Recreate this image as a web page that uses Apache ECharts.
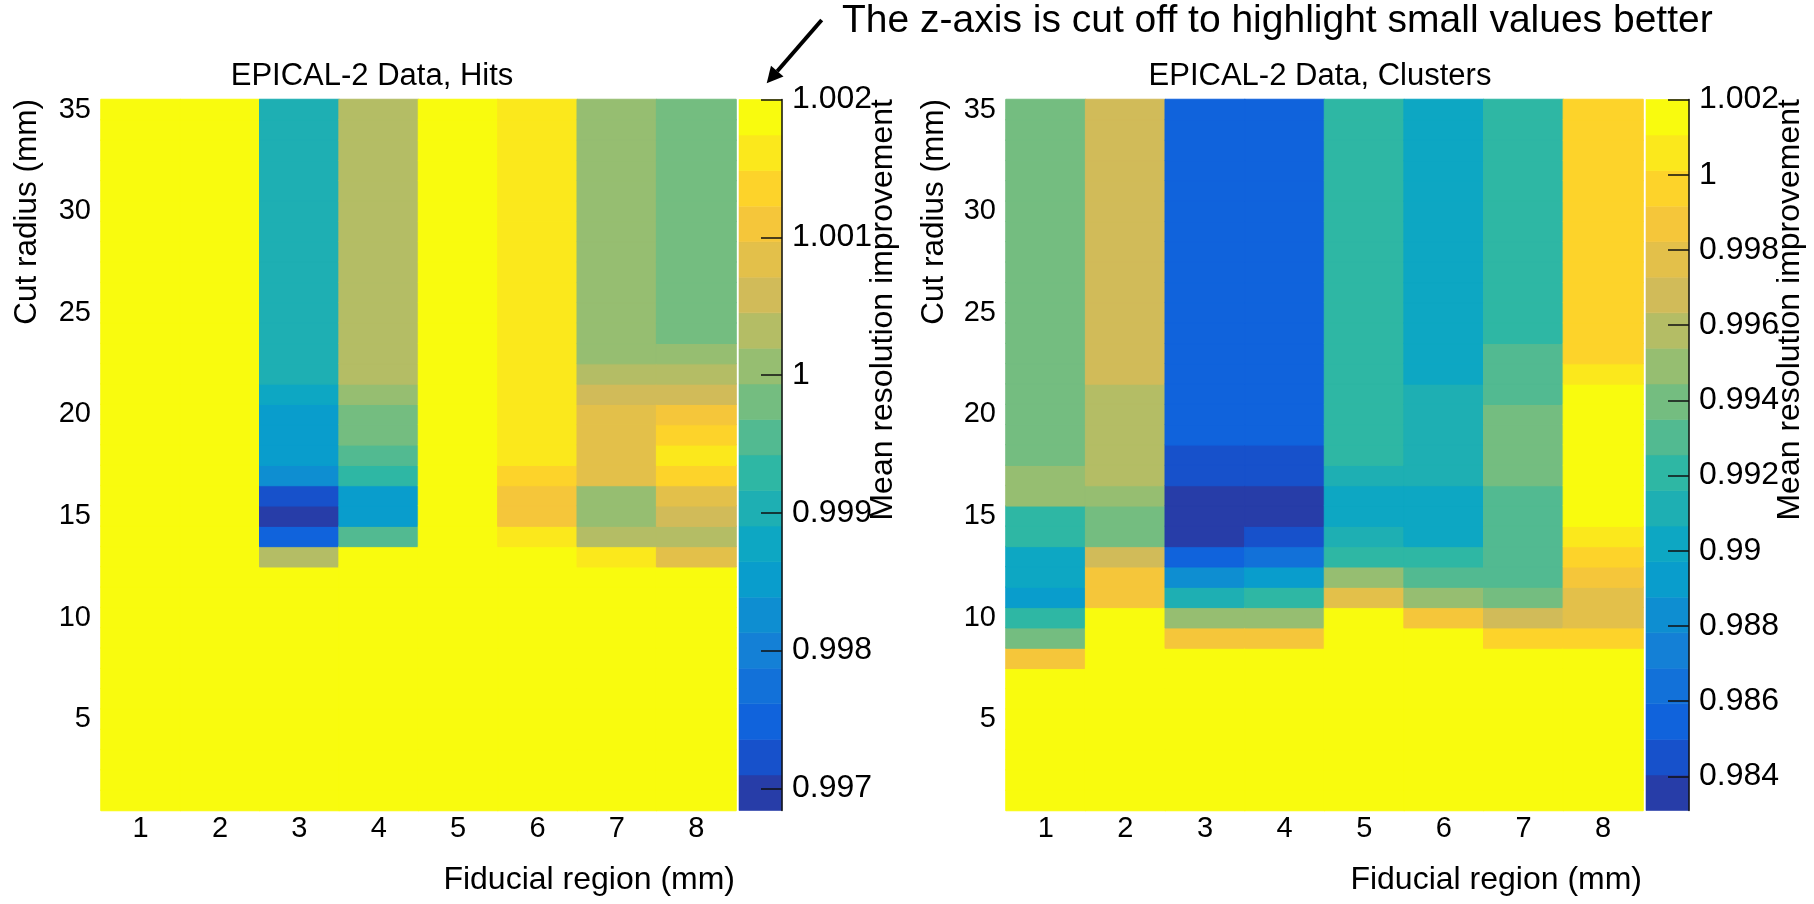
<!DOCTYPE html>
<html>
<head>
<meta charset="utf-8">
<title>EPICAL-2 resolution improvement</title>
<script src="https://cdn.jsdelivr.net/npm/echarts@6/dist/echarts.min.js"></script>
<style>
  html, body { margin: 0; padding: 0; background: #ffffff; }
  #chart { width: 1814px; height: 904px; }
</style>
</head>
<body>
<div id="chart"></div>
<script>
// Axis categories
const fiducialLabels = ['1', '2', '3', '4', '5', '6', '7', '8'];
const radiusLabels = ['1', '2', '3', '4', '5', '6', '7', '8', '9', '10', '11', '12',
  '13', '14', '15', '16', '17', '18', '19', '20', '21', '22', '23', '24', '25', '26',
  '27', '28', '29', '30', '31', '32', '33', '34', '35'];

// Mean resolution improvement per fiducial region, as runs of
// [first cut radius, last cut radius, value] (radius in mm, bottom to top).
const hitsColumns = [
  [[1, 35, 1.0019]],
  [[1, 35, 1.0019]],
  [[1, 12, 1.0019], [13, 13, 1.00032], [14, 14, 0.99749], [15, 15, 0.99686], [16, 16, 0.99723],
   [17, 17, 0.99826], [18, 20, 0.99852], [21, 21, 0.99877], [22, 35, 0.99903]],
  [[1, 13, 1.0019], [14, 14, 0.99955], [15, 16, 0.99852], [17, 17, 0.99929], [18, 18, 0.99955],
   [19, 20, 0.99981], [21, 21, 1.00006], [22, 35, 1.00032]],
  [[1, 35, 1.0019]],
  [[1, 13, 1.0019], [14, 14, 1.00161], [15, 16, 1.0011], [17, 17, 1.00135], [18, 35, 1.00161]],
  [[1, 12, 1.0019], [13, 13, 1.00161], [14, 14, 1.00032], [15, 16, 1.00006], [17, 20, 1.00084],
   [21, 21, 1.00058], [22, 22, 1.00032], [23, 35, 1.00006]],
  [[1, 12, 1.0019], [13, 13, 1.00084], [14, 14, 1.00032], [15, 15, 1.00058], [16, 16, 1.00084],
   [17, 17, 1.00135], [18, 18, 1.00161], [19, 19, 1.00135], [20, 20, 1.0011], [21, 21, 1.00058],
   [22, 22, 1.00032], [23, 23, 1.00006], [24, 35, 0.99981]]
];

const clustersColumns = [
  [[1, 7, 1.0019], [8, 8, 0.99868], [9, 9, 0.99396], [10, 10, 0.99207], [11, 11, 0.98923],
   [12, 13, 0.99018], [14, 15, 0.99207], [16, 17, 0.9949], [18, 35, 0.99396]],
  [[1, 10, 1.0019], [11, 12, 0.99868], [13, 13, 0.99679], [14, 15, 0.99396], [16, 16, 0.9949],
   [17, 21, 0.99585], [22, 35, 0.99679]],
  [[1, 8, 1.0019], [9, 9, 0.99868], [10, 10, 0.9949], [11, 11, 0.99112], [12, 12, 0.98829],
   [13, 13, 0.98545], [14, 16, 0.9831], [17, 18, 0.98451], [19, 35, 0.98545]],
  [[1, 8, 1.0019], [9, 9, 0.99868], [10, 10, 0.9949], [11, 11, 0.99207], [12, 12, 0.98923],
   [13, 13, 0.9864], [14, 14, 0.98451], [15, 16, 0.9831], [17, 18, 0.98451], [19, 35, 0.98545]],
  [[1, 10, 1.0019], [11, 11, 0.99774], [12, 12, 0.9949], [13, 13, 0.99207], [14, 14, 0.99112],
   [15, 16, 0.99018], [17, 17, 0.99112], [18, 35, 0.99207]],
  [[1, 9, 1.0019], [10, 10, 0.99868], [11, 11, 0.9949], [12, 12, 0.99301], [13, 13, 0.99207],
   [14, 16, 0.99018], [17, 21, 0.99112], [22, 35, 0.99018]],
  [[1, 8, 1.0019], [9, 9, 0.99963], [10, 10, 0.99679], [11, 11, 0.99396], [12, 16, 0.99301],
   [17, 20, 0.99396], [21, 23, 0.99301], [24, 35, 0.99207]],
  [[1, 8, 1.0019], [9, 9, 0.99963], [10, 11, 0.99774], [12, 12, 0.99868], [13, 13, 0.99963],
   [14, 14, 1.00057], [15, 21, 1.0019], [22, 22, 1.00057], [23, 35, 0.99963]]
];

// z-axis ranges (cut at the top) and colour-bar tick values
const hitsRange = [0.99684, 1.002];
const clustersRange = [0.98309, 1.002];
const hitsTicks = [0.997, 0.998, 0.999, 1, 1.001, 1.002];
const clustersTicks = [0.984, 0.986, 0.988, 0.99, 0.992, 0.994, 0.996, 0.998, 1, 1.002];

// ---- palette: 20 contour levels of the "bird" colour map ----
const NBANDS = 20;
const birdStops = {
  r: [0.2082, 0.0592, 0.0780, 0.0232, 0.1802, 0.5301, 0.8186, 0.9956, 0.9764],
  g: [0.1664, 0.3599, 0.5041, 0.6419, 0.7178, 0.7492, 0.7328, 0.7862, 0.9832],
  b: [0.5293, 0.8684, 0.8385, 0.7914, 0.6425, 0.4662, 0.3499, 0.1968, 0.0539]
};
function birdAt(f) {
  const n = birdStops.r.length - 1;
  const p = Math.min(Math.max(f, 0), 1) * n;
  const k = Math.min(Math.floor(p), n - 1);
  const t = p - k;
  const ch = a => Math.round(255 * (a[k] + (a[k + 1] - a[k]) * t));
  return 'rgb(' + ch(birdStops.r) + ',' + ch(birdStops.g) + ',' + ch(birdStops.b) + ')';
}
function bandColor(i) {
  return birdAt(Math.floor((i + 0.99) * 255 / NBANDS) / 254);
}
function bandIndex(v, range) {
  const w = (range[1] - range[0]) / NBANDS;
  return Math.min(NBANDS - 1, Math.max(0, Math.floor((v - range[0]) / w)));
}
function bandPieces(range) {
  const w = (range[1] - range[0]) / NBANDS;
  const pieces = [];
  for (let i = 0; i < NBANDS; i++) {
    const p = { color: bandColor(i) };
    if (i > 0) p.gte = range[0] + i * w;
    if (i < NBANDS - 1) p.lt = range[0] + (i + 1) * w;
    pieces.push(p);
  }
  return pieces;
}
function bandData(range) {
  const w = (range[1] - range[0]) / NBANDS;
  const out = [];
  for (let i = 0; i < NBANDS; i++) out.push([0, range[0] + i * w, range[0] + (i + 1) * w, i]);
  return out;
}
// Expand the runs into heatmap cells; each cell gets a thin outline in its own
// band colour so neighbouring cells join without hairline seams.
function cells(columns, range) {
  const out = [];
  columns.forEach((runs, c) => {
    runs.forEach(([from, to, v]) => {
      for (let r = from; r <= to; r++) {
        out.push({
          value: [c, r - 1, v],
          itemStyle: { borderColor: bandColor(bandIndex(v, range)), borderWidth: 1 }
        });
      }
    });
  });
  return out;
}
function renderBand(params, api) {
  const lo = api.coord([0, api.value(1)]);
  const hi = api.coord([0, api.value(2)]);
  const w = api.size([1, 0])[0];
  return {
    type: 'rect',
    shape: { x: lo[0] - w / 2, y: hi[1], width: w, height: lo[1] - hi[1] },
    style: { fill: bandColor(api.value(3)), stroke: bandColor(api.value(3)), lineWidth: 0.6 }
  };
}
function tickText(v) { return String(+(+v).toFixed(3)); }

const FONT = "'Liberation Sans', Arial, Helvetica, sans-serif";
const TOP = 99.5, HEIGHT = 711;

function heatAxes(gridIndex) {
  return {
    x: {
      type: 'category', gridIndex, data: fiducialLabels,
      axisLine: { show: false }, axisTick: { show: false }, splitLine: { show: false },
      axisLabel: { color: '#000', fontFamily: FONT, fontSize: 29, margin: 4 }
    },
    y: {
      type: 'category', gridIndex, data: radiusLabels,
      axisLine: { show: false }, axisTick: { show: false }, splitLine: { show: false },
      axisLabel: {
        color: '#000', fontFamily: FONT, fontSize: 29, margin: 10,
        interval: (idx, val) => Number(val) % 5 === 0
      }
    }
  };
}
function barAxes(gridIndex, range, ticks) {
  return {
    x: { type: 'category', gridIndex, data: ['z'], show: false },
    y: {
      type: 'value', gridIndex, position: 'right', min: range[0], max: range[1], z: 10,
      axisLine: { show: true, lineStyle: { color: '#111', width: 1.5 } },
      axisTick: { show: true, inside: true, length: 21, customValues: ticks, lineStyle: { color: '#111', width: 1.5 } },
      axisLabel: { color: '#000', fontFamily: FONT, fontSize: 32, margin: 10, customValues: ticks, formatter: tickText },
      splitLine: { show: false }
    }
  };
}

const hA = heatAxes(0), hB = barAxes(1, hitsRange, hitsTicks);
const cA = heatAxes(2), cB = barAxes(3, clustersRange, clustersTicks);

function label(text, x, y, size, align, rot) {
  return {
    type: 'text', x, y, rotation: rot || 0, silent: true,
    style: {
      text, fill: '#000', font: size + 'px ' + FONT,
      align, verticalAlign: 'middle', textAlign: align, textVerticalAlign: 'middle'
    }
  };
}

const option = {
  animation: false,
  backgroundColor: '#ffffff',
  grid: [
    { left: 101, top: TOP, width: 635, height: HEIGHT },
    { left: 739, top: TOP, width: 43, height: HEIGHT },
    { left: 1006, top: TOP, width: 637, height: HEIGHT },
    { left: 1646, top: TOP, width: 43, height: HEIGHT }
  ],
  xAxis: [hA.x, hB.x, cA.x, cB.x],
  yAxis: [hA.y, hB.y, cA.y, cB.y],
  visualMap: [
    { type: 'piecewise', show: false, seriesIndex: 0, dimension: 2, pieces: bandPieces(hitsRange) },
    { type: 'piecewise', show: false, seriesIndex: 2, dimension: 2, pieces: bandPieces(clustersRange) }
  ],
  series: [
    { name: 'Hits', type: 'heatmap', xAxisIndex: 0, yAxisIndex: 0, data: cells(hitsColumns, hitsRange),
      emphasis: { disabled: true }, progressive: 0 },
    { name: 'Hits scale', type: 'custom', xAxisIndex: 1, yAxisIndex: 1, data: bandData(hitsRange),
      renderItem: renderBand, encode: { x: 0, y: [1, 2] }, silent: true },
    { name: 'Clusters', type: 'heatmap', xAxisIndex: 2, yAxisIndex: 2, data: cells(clustersColumns, clustersRange),
      emphasis: { disabled: true }, progressive: 0 },
    { name: 'Clusters scale', type: 'custom', xAxisIndex: 3, yAxisIndex: 3, data: bandData(clustersRange),
      renderItem: renderBand, encode: { x: 0, y: [1, 2] }, silent: true }
  ],
  graphic: [
    label('EPICAL-2 Data, Hits', 372, 76, 31, 'center'),
    label('EPICAL-2 Data, Clusters', 1320, 76, 31, 'center'),
    label('Fiducial region (mm)', 735, 880, 32, 'right'),
    label('Fiducial region (mm)', 1642, 880, 32, 'right'),
    label('Cut radius (mm)', 27, 99, 31.5, 'right', Math.PI / 2),
    label('Cut radius (mm)', 934, 99, 31.5, 'right', Math.PI / 2),
    label('Mean resolution improvement', 883, 99, 32, 'right', Math.PI / 2),
    label('Mean resolution improvement', 1790, 99, 32, 'right', Math.PI / 2),
    label('The z-axis is cut off to highlight small values better', 842, 21, 39, 'left'),
    {
      type: 'line', silent: true,
      shape: { x1: 821.7, y1: 20, x2: 777.2, y2: 71.2 },
      style: { stroke: '#000', lineWidth: 4 }
    },
    {
      type: 'polygon', silent: true,
      shape: { points: [[766.7, 83.3], [783.5, 76.6], [771.0, 65.8]] },
      style: { fill: '#000' }
    }
  ]
};

const chart = echarts.init(document.getElementById('chart'), null, { renderer: 'canvas' });
chart.setOption(option);
</script>
</body>
</html>
